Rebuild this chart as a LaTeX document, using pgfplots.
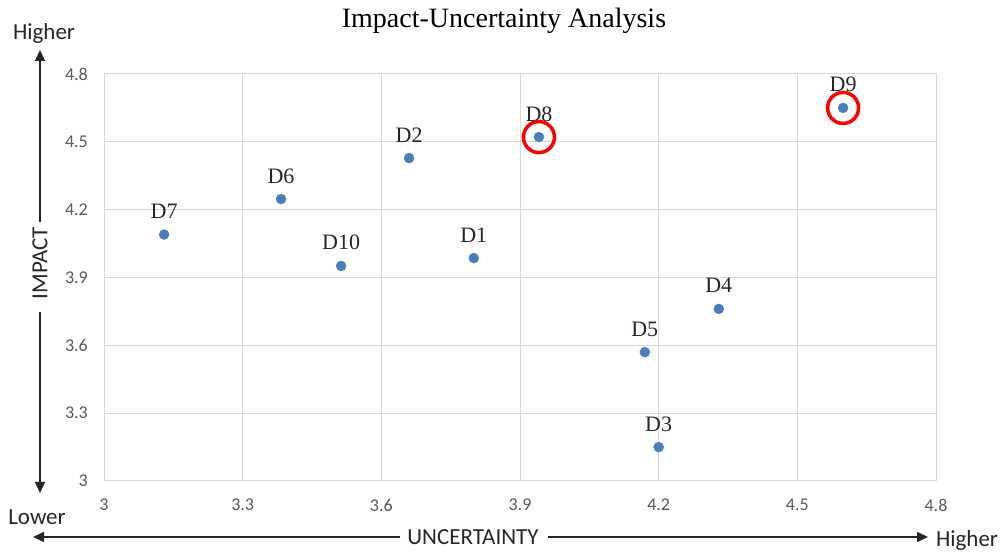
\documentclass[border=0pt]{standalone}
\usepackage{fontspec}
\setmainfont{Carlito}
\newfontfamily\serifft{Liberation Serif}
\usepackage{pgfplots}
\pgfplotsset{compat=1.18}
\usetikzlibrary{arrows.meta}
\definecolor{ptblue}{HTML}{4A7EBB}
\definecolor{gridc}{HTML}{D9D9D9}
\definecolor{tickc}{HTML}{595959}
\definecolor{txtc}{HTML}{262626}
\begin{document}
\begin{tikzpicture}
\useasboundingbox (0pt,0pt) rectangle (1003pt,551pt);
\begin{axis}[
  at={(104pt,70pt)}, anchor=south west, scale only axis,
  width=832pt, height=407pt,
  xmin=3, xmax=4.8, ymin=3, ymax=4.8,
  xtick={3,3.3,3.6,3.9,4.2,4.5,4.8},
  xticklabels={3,3.3,3.6,3.9,4.2,4.5,4.8},
  ytick={3,3.3,3.6,3.9,4.2,4.5,4.8},
  yticklabels={3,3.3,3.6,3.9,4.2,4.5,4.8},
  grid=major, major grid style={gridc, line width=1pt},
  axis line style={gridc, line width=1pt},
  major tick length=0pt,
  tick label style={font=\fontsize{18}{18}\selectfont, text=tickc, inner sep=0pt},
  xticklabel style={anchor=north, yshift=-18pt},
  yticklabel style={anchor=east, xshift=-16pt},
  /pgf/number format/assume math mode=true,
  clip=false,
]
\addplot[only marks, mark=*, mark size=5pt, color=ptblue,
  mark options={draw=ptblue, fill=ptblue},
  nodes near coords, point meta=explicit symbolic,
  nodes near coords style={anchor=base, inner sep=0pt, yshift=16pt,
    font=\serifft\fontsize{22}{22}\selectfont, text=txtc}]
  table[meta=label] {
x     y     label
3.800 3.986 D1
3.660 4.428 D2
4.200 3.150 D3
4.330 3.761 D4
4.170 3.570 D5
3.383 4.247 D6
3.130 4.090 D7
3.941 4.521 D8
4.599 4.650 D9
3.513 3.951 D10
};
\addplot[only marks, mark=o, mark size=15.5pt, color=red, line width=3.5pt]
  coordinates {(3.941,4.521) (4.599,4.650)};
\end{axis}
\node[font=\serifft\fontsize{28}{28}\selectfont, text=black] at (504pt,530pt) {Impact-Uncertainty Analysis};
\begin{scope}[line width=1.5pt, txtc, -{Triangle[length=11pt,width=10pt]}]
  \draw (40pt,329pt) -- (40pt,501pt);
  \draw (40pt,239pt) -- (40pt,58pt);
  \draw (400pt,14pt) -- (33pt,14pt);
  \draw (548pt,14pt) -- (928pt,14pt);
\end{scope}
\begin{scope}[font=\fontsize{23}{23}\selectfont, text=txtc]
  \node[rotate=90] at (40pt,288pt) {IMPACT};
  \node at (473pt,14pt) {UNCERTAINTY};
  \node at (44pt,518pt) {Higher};
  \node at (37pt,34pt) {Lower};
  \node at (967pt,11pt) {Higher};
\end{scope}
\end{tikzpicture}
\end{document}
